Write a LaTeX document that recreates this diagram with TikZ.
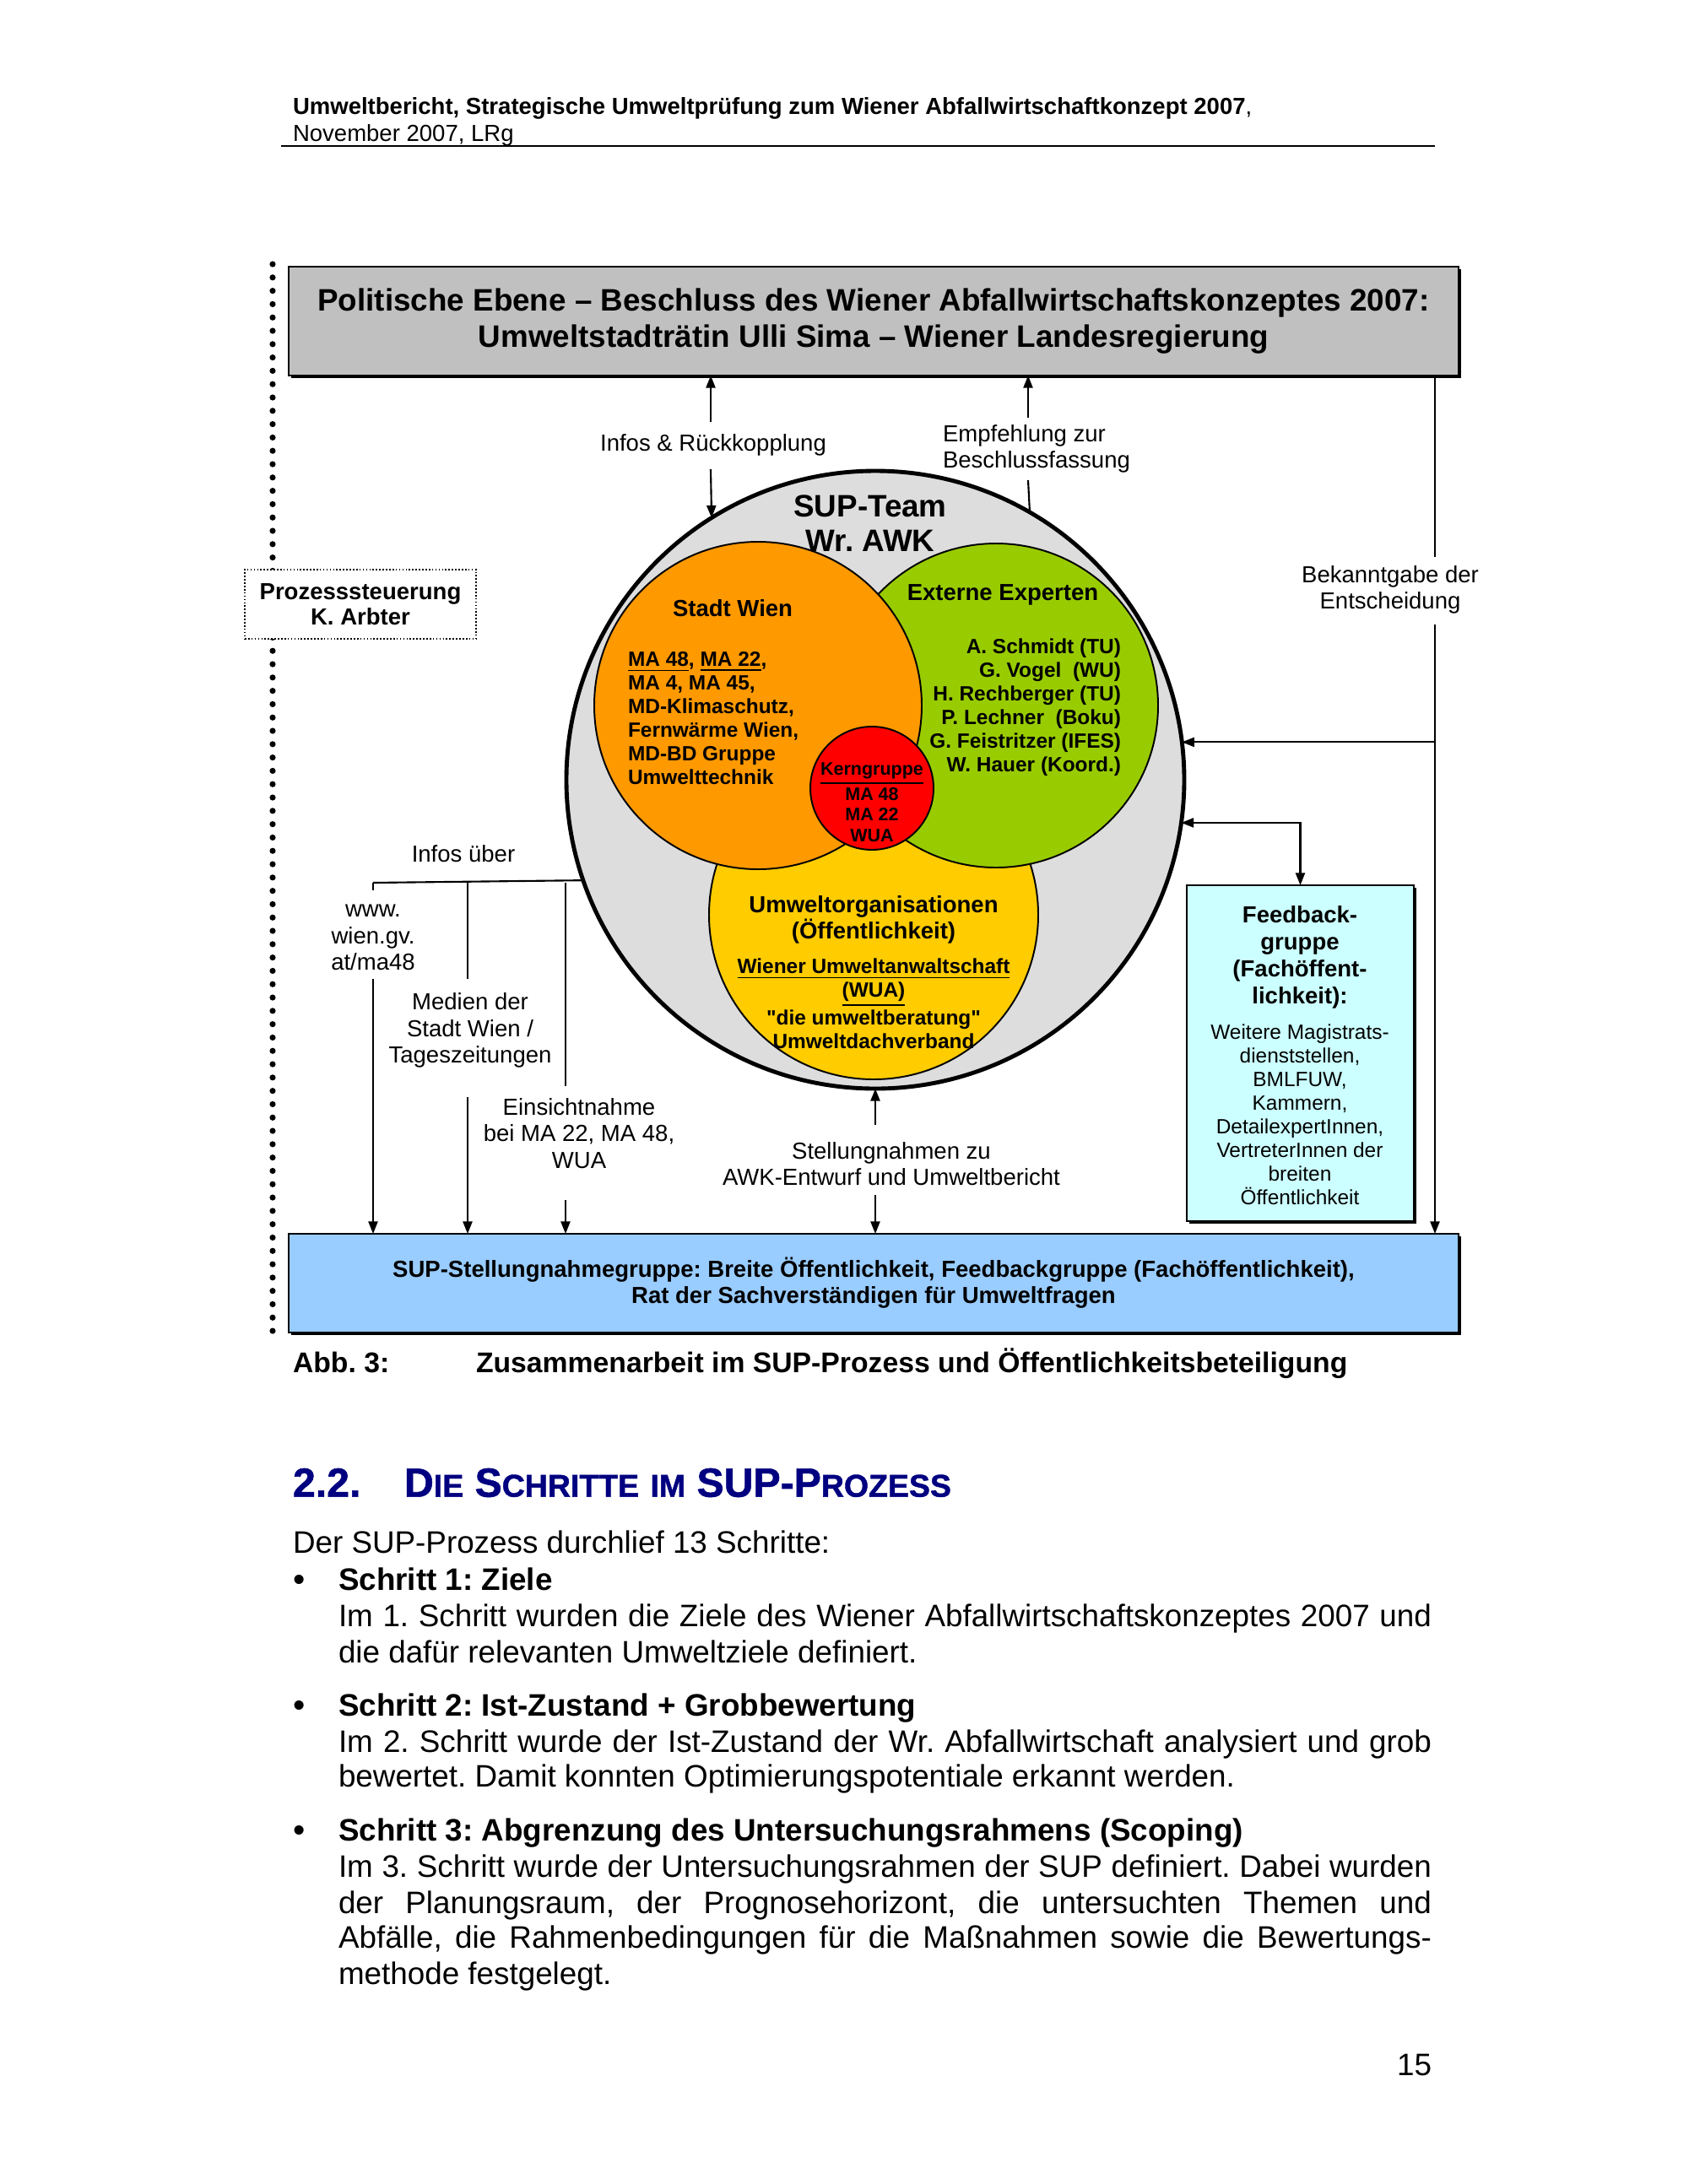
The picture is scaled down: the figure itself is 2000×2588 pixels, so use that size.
\documentclass[tikz,border=0pt]{standalone}
\usepackage{fontspec}
\setmainfont{Liberation Sans}
\newfontfamily\heavyfont{Liberation Sans}[FakeBold=1.2]
\usetikzlibrary{arrows.meta,shadows,calc}
\newlength\pxu
\setlength\pxu{0.010795cm}
\newcommand\fsz[2]{\fontsize{#1}{#2}\selectfont}
\newcommand\smc[1]{{\fontsize{11.5}{13}\selectfont #1}}
\definecolor{polgray}{HTML}{C0C0C0}
\definecolor{teamgray}{HTML}{DDDDDD}
\definecolor{umwyellow}{HTML}{FFCC00}
\definecolor{expgreen}{HTML}{99CC00}
\definecolor{wienorange}{HTML}{FF9900}
\definecolor{kernred}{HTML}{FF0000}
\definecolor{fbcyan}{HTML}{CCFFFF}
\definecolor{botblue}{HTML}{99CCFF}
\definecolor{navyhead}{HTML}{000080}
\frenchspacing
\begin{document}
\frenchspacing
\begin{tikzpicture}[x=0.010795cm,y=-0.010795cm,
  tx/.style={inner sep=0pt,outer sep=0pt,align=center},
  lab/.style={tx,font=\fsz{8.45}{9.7}},
  conn/.style={line width=0.65pt},
  arr/.style={conn,-{Triangle[length=4.5pt,width=3.4pt]}},
  darr/.style={conn,{Triangle[length=4.5pt,width=3.4pt]}-{Triangle[length=4.5pt,width=3.4pt]}},
  shbox/.style={draw=black,line width=0.8pt,inner sep=0pt,outer sep=0pt,drop shadow={shadow xshift=1pt,shadow yshift=-1pt,fill=black,opacity=1}},
  ring/.style={circle,draw=black,line width=0.6pt,inner sep=0pt,outer sep=0pt},
  body/.style={tx,anchor=mid west,font=\fsz{11.3}{13}},
  bodyb/.style={body,font=\fsz{11.3}{13}\bfseries},
  bullet/.style={tx,font=\fsz{12.5}{13}},
]
\useasboundingbox (0,0) rectangle (2000,2588);
\fill[white] (0,0) rectangle (2000,2588);

% header
\node[tx,anchor=mid west,font=\fsz{8.45}{10}] (hd1) at (347,127) {{\bfseries Umweltbericht, Strategische Umweltprüfung zum Wiener Abfallwirtschaftkonzept 2007},};
\node[tx,anchor=mid west,font=\fsz{8.45}{10}] (hd2) at (347,159) {November 2007, LRg};
\coordinate (rl) at (333,173);
\coordinate (rr) at (1700,173);
\draw[line width=0.45pt] (rl) -- (rr);

% dotted process line
\coordinate (dt) at (323,313);
\coordinate (db) at (323,1578);
\draw[line width=2.2pt,line cap=round,dash pattern=on 0pt off 4.85pt] (dt) -- (db);
\node[draw,line width=0.5pt,dash pattern=on 0.5pt off 0.7pt,fill=white,minimum width={274*\pxu},minimum height={82*\pxu},inner sep=0pt,align=center,font=\fsz{8.45}{9.2}\bfseries] (proz) at (427,716) {Prozesssteuerung\\K. Arbter};

% boxes
\node[shbox,fill=polgray,minimum width={1386*\pxu},minimum height={129*\pxu},font=\fsz{11.3}{13.1}\bfseries,align=center] (pol) at (1035,380.5) {Politische Ebene – Beschluss des Wiener Abfallwirtschaftskonzeptes 2007:\\Umweltstadträtin Ulli Sima – Wiener Landesregierung};
\node[shbox,fill=botblue,minimum width={1386*\pxu},minimum height={117*\pxu},font=\fsz{8.45}{9.5}\bfseries,align=center] (bot) at (1035,1520.5) {SUP-Stellungnahmegruppe: Breite Öffentlichkeit, Feedbackgruppe (Fachöffentlichkeit),\\Rat der Sachverständigen für Umweltfragen};
\node[shbox,fill=fbcyan,minimum width={269*\pxu},minimum height={398*\pxu}] (fb) at (1540.5,1248) {};
\node[tx,font=\fsz{8.45}{9.8}\bfseries] (fbh) at (1540,1134) {Feedback-\\gruppe\\(Fachöffent-\\lichkeit):};
\node[tx,font=\fsz{7.5}{8.6}] (fbt) at (1540,1321) {Weitere Magistrats-\\dienststellen,\\BMLFUW,\\Kammern,\\DetailexpertInnen,\\VertreterInnen der\\breiten\\Öffentlichkeit};

% circles
\node[ring,fill=teamgray,line width=1.5pt,minimum size={732*\pxu}] (team) at (1037,924) {};
\node[ring,fill=umwyellow,minimum size={390*\pxu}] (yel) at (1035,1084) {};
\node[ring,fill=expgreen,minimum size={384*\pxu}] (grn) at (1180,836) {};
\node[ring,fill=wienorange,minimum size={388*\pxu}] (org) at (898,836) {};
\node[ring,fill=kernred,minimum size={146*\pxu}] (kern) at (1033,934) {};

\node[tx,font=\fsz{11.3}{12.8}\bfseries] (teamt) at (1031,620) {SUP-Team\\Wr. AWK};
\node[tx,font=\fsz{8.45}{10}\bfseries] (wient) at (868,721) {Stadt Wien};
\node[tx,anchor=west,align=left,font=\fsz{7.5}{8.6}\bfseries] (wienl) at (744,851) {\underline{MA 48}, \underline{MA 22},\\MA 4, MA 45,\\MD-Klimaschutz,\\Fernwärme Wien,\\MD-BD Gruppe\\Umwelttechnik};
\node[tx,font=\fsz{8.45}{10}\bfseries] (expt) at (1188,705) {Externe Experten};
\node[tx,anchor=east,align=right,font=\fsz{7.5}{8.6}\bfseries] (expl) at (1328,838) {A. Schmidt (TU)\\G. Vogel~ (WU)\\H. Rechberger (TU)\\P. Lechner~ (Boku)\\G. Feistritzer (IFES)\\W. Hauer (Koord.)};
\node[tx,font=\fsz{6.6}{7.6}\bfseries] (kernt) at (1033,951) {\underline{Kerngruppe}\\MA 48\\MA 22\\WUA};
\node[tx,font=\fsz{8.45}{9.5}\bfseries] (yelt) at (1035,1090) {Umweltorganisationen\\(Öffentlichkeit)};
\node[tx,font=\fsz{7.5}{8.6}\bfseries] (yell) at (1035,1189) {\underline{Wiener Umweltanwaltschaft}\\\underline{(WUA)}\\\textquotedbl die umweltberatung\textquotedbl\\Umweltdachverband};

% top connectors
\coordinate (ta1) at (842,500);
\draw[arr] (ta1) -- (ta1 |- pol.south);
\node[lab] (infr) at (845,527) {Infos \& Rückkopplung};
\coordinate (ta2) at (842,556);
\draw[arr] (ta2) -- (team.122.2);
\coordinate (tb1) at (1218,495);
\draw[arr] (tb1) -- (tb1 |- pol.south);
\node[lab,anchor=west,align=left] (empf) at (1117,532) {Empfehlung zur\\Beschlussfassung};
\coordinate (tb2) at (1218,569);
\draw[conn] (tb2) -- (team.60.35);

% right connectors
\coordinate (rv1) at (1700,660);
\draw[conn] (rv1 |- pol.south) -- (rv1);
\node[lab] (bek) at (1647,699) {Bekanntgabe der\\Entscheidung};
\coordinate (rv2) at (1700,740);
\draw[arr] (rv2) -- (rv2 |- bot.north);
\draw[arr] (team.7.22 -| rv2) -- (team.7.22);
\draw[darr] (team.-8.33) -| (fb.north);

% left connectors
\node[lab] (infu) at (549,1012) {Infos über};
\coordinate (hl) at (442,1046);
\draw[conn] (hl) -- (team.199.47);
\coordinate (w0) at (442,1055);
\draw[conn] (hl) -- (w0);
\node[lab] (www) at (442,1111) {www.\\wien.gv.\\at/ma48};
\coordinate (w1) at (442,1160);
\draw[arr] (w1) -- (w1 |- bot.north);
\coordinate (m0) at (554,1046);
\coordinate (m1) at (554,1160);
\draw[conn] (m0) -- (m1);
\node[lab] (med) at (557,1221) {Medien der\\Stadt Wien /\\Tageszeitungen};
\coordinate (m2) at (554,1300);
\draw[arr] (m2) -- (m2 |- bot.north);
\coordinate (e0) at (670,1046);
\coordinate (e1) at (670,1287);
\draw[conn] (e0) -- (e1);
\node[lab] (ein) at (686,1343) {Einsichtnahme\\bei MA 22, MA 48,\\WUA};
\coordinate (e2) at (670,1422);
\draw[arr] (e2) -- (e2 |- bot.north);

% bottom centre
\coordinate (s1) at (1037,1333);
\draw[arr] (s1) -- (team.south);
\node[lab] (stell) at (1056,1379) {Stellungnahmen zu\\AWK-Entwurf und Umweltbericht};
\coordinate (s2) at (1037,1416);
\draw[arr] (s2) -- (s2 |- bot.north);

% caption
\node[tx,anchor=mid west,font=\fsz{10.35}{12}\bfseries] (abb) at (347,1618) {Abb. 3:};
\node[tx,anchor=mid west,font=\fsz{10.35}{12}\bfseries] (capt) at (564,1618) {Zusammenarbeit im SUP-Prozess und Öffentlichkeitsbeteiligung};

% heading
\node[tx,anchor=mid west,text=navyhead,font=\heavyfont\bfseries\fsz{14.8}{17}] (h22) at (347,1765) {2.2.};
\node[tx,anchor=mid west,text=navyhead,font=\heavyfont\bfseries\fsz{14.8}{17}] (htit) at (479,1765) {D\smc{IE} S\smc{CHRITTE} \smc{IM} SUP-P\smc{ROZESS}};

% body
\node[body] (b0) at (347,1832) {Der SUP-Prozess durchlief 13 Schritte:};
\node[bullet] (bu1) at (355,1876) {\textbullet};
\node[bodyb] (s1h) at (401,1876) {Schritt 1: Ziele};
\node[body] (s1a) at (401,1919) {\makebox[1295\pxu][s]{Im 1. Schritt wurden die Ziele des Wiener Abfallwirtschaftskonzeptes 2007 und}};
\node[body] (s1b) at (401,1962) {die dafür relevanten Umweltziele definiert.};
\node[bullet] (bu2) at (355,2025) {\textbullet};
\node[bodyb] (s2h) at (401,2025) {Schritt 2: Ist-Zustand + Grobbewertung};
\node[body] (s2a) at (401,2068) {\makebox[1295\pxu][s]{Im 2. Schritt wurde der Ist-Zustand der Wr. Abfallwirtschaft analysiert und grob}};
\node[body] (s2b) at (401,2109) {bewertet. Damit konnten Optimierungspotentiale erkannt werden.};
\node[bullet] (bu3) at (355,2173) {\textbullet};
\node[bodyb] (s3h) at (401,2173) {Schritt 3: Abgrenzung des Untersuchungsrahmens (Scoping)};
\node[body] (s3a) at (401,2216) {\makebox[1295\pxu][s]{Im 3. Schritt wurde der Untersuchungsrahmen der SUP definiert. Dabei wurden}};
\node[body] (s3b) at (401,2259) {\makebox[1295\pxu][s]{der Planungsraum, der Prognosehorizont, die untersuchten Themen und}};
\node[body] (s3c) at (401,2300) {\makebox[1295\pxu][s]{Abfälle, die Rahmenbedingungen für die Maßnahmen sowie die Bewertungs-}};
\node[body] (s3d) at (401,2343) {methode festgelegt.};
\node[tx,anchor=mid east,font=\fsz{11.3}{13}] (pg) at (1696,2451) {15};
\end{tikzpicture}
\end{document}
